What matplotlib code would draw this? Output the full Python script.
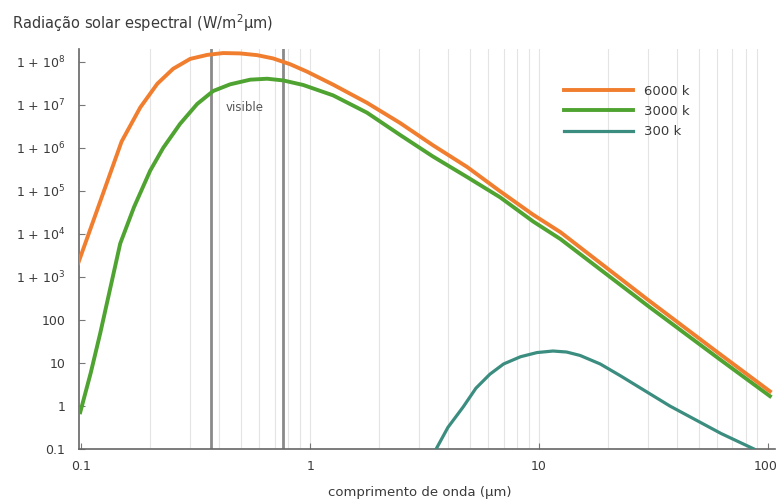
import matplotlib
matplotlib.use("Agg")
import matplotlib.pyplot as plt
import matplotlib.transforms as mtransforms

# Espectro de corpo negro, valores lidos em escala log-log (µm, W/m²µm)
wl_6000 = [0.097, 0.150, 0.181, 0.215, 0.252, 0.299, 0.355, 0.417, 0.494, 0.587,
           0.689, 0.818, 0.970, 1.26, 1.77, 2.47, 3.44, 4.85, 6.76, 9.42, 12.4,
           30, 60, 102]
rad_6000 = [2.1e3, 1.4e6, 8.7e6, 3.1e7, 6.9e7, 1.17e8, 1.45e8, 1.6e8, 1.57e8,
            1.43e8, 1.2e8, 8.8e7, 5.9e7, 2.95e7, 1.12e7, 3.8e6, 1.15e6, 3.6e5,
            9.8e4, 2.8e4, 1.1e4, 2.9e2, 18, 2.2]

wl_3000 = [0.099, 0.110, 0.121, 0.148, 0.170, 0.200, 0.228, 0.270, 0.321, 0.377,
           0.447, 0.547, 0.649, 0.762, 0.932, 1.26, 1.77, 2.47, 3.44, 4.85, 6.76,
           9.42, 12.4, 30, 60, 102]
rad_3000 = [0.72, 5.9, 49, 6.0e3, 4.2e4, 2.95e5, 1.0e6, 3.6e6, 1.05e7, 2.1e7,
            3.0e7, 3.85e7, 4.05e7, 3.7e7, 2.9e7, 1.66e7, 6.6e6, 2.0e6, 6.3e5,
            2.1e5, 7.1e4, 1.95e4, 7.6e3, 2.1e2, 13.5, 1.7]

wl_300 = [3.55, 4.0, 4.66, 5.3, 6.1, 7.0, 8.3, 9.8, 11.5, 13.2, 15.1, 18.5, 22.6,
          37.3, 62.4, 87]
rad_300 = [0.1, 0.32, 0.95, 2.6, 5.5, 9.5, 14, 17.5, 19, 18, 15, 9.5, 5.1,
           1.0, 0.23, 0.1]

visible_edges = [0.37, 0.76]

y_ticks = [0.1, 1, 10, 100, 1e3, 1e4, 1e5, 1e6, 1e7, 1e8]
y_labels = ["0.1", "1", "10", "100", r"1 + 10$^3$", r"1 + 10$^4$", r"1 + 10$^5$",
            r"1 + 10$^6$", r"1 + 10$^7$", r"1 + 10$^8$"]
x_ticks = [0.1, 1, 10, 100]
x_labels = ["0.1", "1", "10", "100"]

text_color = "#3a3a3a"

fig = plt.figure(figsize=(7.77, 5.04), dpi=100)
ax = fig.add_axes([0.102, 0.109, 0.895, 0.794])
ax.set_xscale("log")
ax.set_yscale("log")
ax.set_xlim(0.098, 107)
ax.set_ylim(0.1, 2e8)

# grelha vertical fina nas subdivisões de cada década
for dec in [0.1, 1, 10]:
    for m in range(1, 10):
        x = dec * m
        if x > 0.1:
            ax.axvline(x, color="#e4e4e4", lw=0.8, zorder=0)

# limites do visível
for x in visible_edges:
    ax.axvline(x, color="#8a8a8a", lw=2.0, zorder=1)
ax.text(0.515, 8.5e6, "visible", ha="center", va="center", fontsize=8.5,
        color="#555555")

ax.plot(wl_300, rad_300, color="#3b8d80", lw=2.3, label="300 k", zorder=3,
        solid_joinstyle="round")
ax.plot(wl_3000, rad_3000, color="#4fa331", lw=2.8, label="3000 k", zorder=3,
        solid_joinstyle="round")
ax.plot(wl_6000, rad_6000, color="#f07e2e", lw=2.8, label="6000 k", zorder=4,
        solid_joinstyle="round")

ax.set_xticks(x_ticks)
ax.set_xticklabels(x_labels)
ax.set_yticks(y_ticks)
ax.set_yticklabels(y_labels)
ax.minorticks_off()
ax.tick_params(axis="both", direction="in", length=4, width=0.8,
               color="#777777", labelsize=9, labelcolor=text_color)
ax.tick_params(axis="x", pad=8)
ax.tick_params(axis="y", pad=10)

# o rótulo "100" fica encostado à margem direita
last = ax.get_xticklabels()[-1]
last.set_horizontalalignment("right")
last.set_transform(last.get_transform() +
                   mtransforms.ScaledTranslation(10 / 100, 0, fig.dpi_scale_trans))

for side in ["top", "right"]:
    ax.spines[side].set_visible(False)
for side in ["left", "bottom"]:
    ax.spines[side].set_color("#666666")
    ax.spines[side].set_linewidth(1.2)

handles, labels = ax.get_legend_handles_labels()
order = [2, 1, 0]
leg = ax.legend([handles[i] for i in order], [labels[i] for i in order],
                loc="upper left", bbox_to_anchor=(0.68, 0.94), frameon=False,
                handlelength=5.2, handletextpad=0.9, labelspacing=0.55,
                fontsize=9.5)
for t in leg.get_texts():
    t.set_color(text_color)

fig.text(0.015, 0.955, r"Radiação solar espectral (W/m$^2$µm)", fontsize=10.5,
         color=text_color, ha="left", va="center")
fig.text(0.54, 0.022, "comprimento de onda (µm)", fontsize=9.5,
         color=text_color, ha="center", va="center")

fig.savefig("out.png", dpi=100, facecolor="white")
